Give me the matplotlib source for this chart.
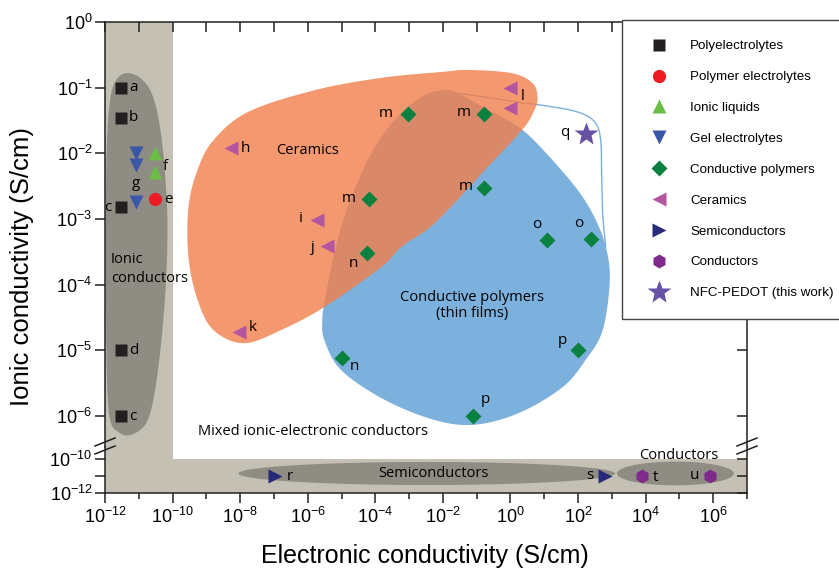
import numpy as np
import matplotlib
matplotlib.use('Agg')
import matplotlib.pyplot as plt
from matplotlib.lines import Line2D
from matplotlib.ticker import FixedLocator, NullLocator, NullFormatter

plt.rcParams['font.family'] = 'Liberation Sans'
plt.rcParams['axes.unicode_minus'] = False

# electronic (x) and ionic (y) conductivity, S/cm
poly_el_x = [3e-12, 3e-12, 3e-12, 3e-12, 3e-12]
poly_el_y = [1e-1, 3.5e-2, 1.5e-3, 1e-5, 1e-6]
poly_el_lab = ['a', 'b', 'c', 'd', 'c']

polymer_x = [3e-11]
polymer_y = [2e-3]
polymer_lab = ['e']

ionic_liq_x = [3e-11, 3e-11]
ionic_liq_y = [1e-2, 5.2e-3]
ionic_liq_lab = ['', 'f']

gel_x = [8e-12, 8e-12, 8e-12]
gel_y = [1e-2, 6.6e-3, 1.8e-3]
gel_lab = ['', 'g', '']

cp_x = [9e-4, 6.3e-5, 5.5e-5, 0.17, 0.17, 12, 240, 1e-5, 100, 0.08]
cp_y = [0.04, 2e-3, 3e-4, 0.04, 3e-3, 4.8e-4, 5e-4, 7.7e-6, 1e-5, 1e-6]
cp_lab = ['m', 'm', 'n', 'm', 'm', 'o', 'o', 'n', 'p', 'p']

cer_x = [5.2e-9, 1.9e-6, 3.8e-6, 9e-9, 1.0, 1.0]
cer_y = [0.012, 9.7e-4, 3.9e-4, 1.9e-5, 0.1, 0.049]
cer_lab = ['h', 'i', 'j', 'k', 'l', '']

semi_x = [1.1e-7, 620]
semi_y = [1e-11, 1e-11]
semi_lab = ['r', 's']

cond_x = [8e3, 8e5]
cond_y = [1e-11, 1e-11]
cond_lab = ['t', 'u']

nfc_x = [170]
nfc_y = [0.02]
nfc_lab = ['q']

# region outlines, in decades (log10 x, log10 y)
ionic_lx = [-11.40, -10.96, -10.60, -10.36, -10.21, -10.15, -10.21, -10.36, -10.57, -10.81,
            -11.26, -11.61, -11.85, -11.94, -11.97, -11.97, -11.94, -11.85, -11.70]
ionic_ly = [-0.78, -0.85, -1.11, -1.64, -2.40, -3.17, -4.08, -4.99, -5.75, -6.13,
            -6.29, -6.24, -6.06, -5.45, -4.23, -2.71, -1.80, -1.19, -0.91]

ceram_lx = [-9.53, -9.53, -9.26, -8.79, -7.77, -5.81, -3.82, -2.03, -1.23, 0.05, 0.65, 0.80,
            0.71, 0.35, -0.75, -2.24, -3.22, -3.82, -5.51, -6.79, -7.89, -8.79, -9.26]
ceram_ly = [-3.58, -2.82, -2.25, -1.80, -1.37, -1.04, -0.85, -0.76, -0.73, -0.78, -0.93, -1.14,
            -1.34, -1.64, -2.25, -3.06, -3.42, -3.73, -4.34, -4.69, -4.89, -4.69, -4.23]

cpol_lx = [-2.03, -1.58, -0.54, 0.35, 1.24, 2.05, 2.52, 2.82, 2.94, 2.73, 2.23, 1.54, 0.26,
           -1.05, -2.24, -3.73, -5.01, -5.51, -5.57, -5.51, -5.30, -5.01, -4.62, -4.11, -3.43, -2.63]
cpol_ly = [-1.04, -1.08, -1.37, -1.64, -2.10, -2.60, -3.01, -3.42, -3.93, -4.69, -5.14, -5.56, -5.95,
           -6.13, -6.06, -5.75, -5.30, -4.84, -4.54, -4.28, -3.73, -3.12, -2.56, -1.99, -1.49, -1.14]

cpol_ext_lx = [-1.73, -0.54, 0.35, 1.10, 1.99, 2.49, 2.67, 2.70, 2.73, 2.82]
cpol_ext_ly = [-1.07, -1.16, -1.23, -1.28, -1.37, -1.52, -1.80, -2.40, -2.94, -3.42]

semi_region = (-2.48, -10.85, 5.57, 0.68)   # centre lx, ly, half widths
cond_region = (4.88, -10.85, 1.73, 0.70)


def smooth(lx, ly, closed=True, n=20):
    p = np.column_stack([lx, ly])
    if closed:
        p = np.vstack([p[-1], p, p[0], p[1]])
    else:
        p = np.vstack([p[0], p, p[-1]])
    t = np.linspace(0, 1, n, endpoint=False)[:, None]
    out = []
    for i in range(1, len(p) - 2):
        p0, p1, p2, p3 = p[i - 1], p[i], p[i + 1], p[i + 2]
        out.append(0.5 * (2 * p1 + (-p0 + p2) * t + (2 * p0 - 5 * p1 + 4 * p2 - p3) * t ** 2
                          + (-p0 + 3 * p1 - 3 * p2 + p3) * t ** 3))
    out = np.vstack(out)
    if not closed:
        out = np.vstack([out, p[-2]])
    return 10 ** out[:, 0], 10 ** out[:, 1]


def ellipse(cx, cy, a, b):
    t = np.linspace(0, 2 * np.pi, 200)
    return 10 ** (cx + a * np.cos(t)), 10 ** (cy + b * np.sin(t))


light = '#c4c1b4'
dark = '#8f8c83'
ink = '#231f20'
txt_font = 'Open Sans'
txt_size = 10.5

fig = plt.figure(figsize=(8.39, 5.71), dpi=100)
W, H = 839, 571
x0, x1 = 105 / W, 747 / W
ax = fig.add_axes([x0, 1 - 447 / H, x1 - x0, (447 - 22) / H])
axl = fig.add_axes([x0, 1 - 493 / H, x1 - x0, (493 - 447) / H], sharex=ax)

for a in (ax, axl):
    a.set_xscale('log')
    a.set_yscale('log')
    a.set_facecolor(light)
    for s in a.spines.values():
        s.set_color(ink)
        s.set_linewidth(1.1)

ax.set_xlim(1e-12, 1e7)
ax.set_ylim(10 ** -6.47, 1)
axl.set_ylim(1e-12, 10 ** -9.29)
ax.spines['bottom'].set_visible(False)
axl.spines['top'].set_visible(False)

ax.axvspan(1e-10, 1e7, color='white', lw=0, zorder=0)
axl.fill_between([1e-10, 1e7], 1e-10, 1e-9, color='white', lw=0, zorder=0)

# ticks
ax.xaxis.set_major_locator(FixedLocator([10.0 ** k for k in range(-12, 7, 2)]))
ax.xaxis.set_minor_locator(FixedLocator([10.0 ** k for k in range(-11, 8, 2)]))
ax.xaxis.set_minor_formatter(NullFormatter())
ax.yaxis.set_major_locator(FixedLocator([10.0 ** -k for k in range(7)]))
ax.yaxis.set_minor_locator(NullLocator())
axl.yaxis.set_major_locator(FixedLocator([1e-12, 1e-10]))
axl.yaxis.set_minor_locator(FixedLocator([1e-11]))
axl.yaxis.set_minor_formatter(NullFormatter())

ax.tick_params(axis='x', which='both', bottom=False, labelbottom=False, top=True,
               direction='in', length=7, width=1.1, color=ink)
ax.tick_params(axis='y', which='both', left=True, right=True, direction='out', length=7,
               width=1.1, labelsize=13, pad=2, color=ink)
for t in ax.yaxis.get_major_ticks():
    t.tick2line.set_marker(matplotlib.lines.TICKLEFT)
axl.tick_params(axis='x', which='major', direction='out', length=7, width=1.1, labelsize=13,
                pad=3, color=ink)
axl.tick_params(axis='x', which='minor', direction='out', length=4, width=1.1, color=ink)
axl.tick_params(axis='y', which='both', left=True, right=True, direction='out', length=7,
                width=1.1, labelsize=13, pad=2, color=ink)
for t in axl.yaxis.get_major_ticks() + axl.yaxis.get_minor_ticks():
    t.tick2line.set_marker(matplotlib.lines.TICKLEFT)

# regions
ax.fill(*smooth(ionic_lx, ionic_ly), color=dark, lw=0, zorder=1)
axl.fill(*ellipse(*semi_region), color=dark, lw=0, zorder=1)
axl.fill(*ellipse(*cond_region), color=dark, lw=0, zorder=1)
ax.fill(*smooth(cpol_lx, cpol_ly), color='#7db1dd', lw=0, zorder=1.5)
ax.plot(*smooth(cpol_ext_lx, cpol_ext_ly, closed=False), color='#7db1dd', lw=1.0, zorder=1.6)
ax.fill(*smooth(ceram_lx, ceram_ly), color='#f17e4b', alpha=0.8, lw=0, zorder=1.7)

# points
series = [
    (ax, poly_el_x, poly_el_y, poly_el_lab, 's', ink, 8, 'Polyelectrolytes'),
    (ax, polymer_x, polymer_y, polymer_lab, 'o', '#ed1c24', 9.5, 'Polymer electrolytes'),
    (ax, ionic_liq_x, ionic_liq_y, ionic_liq_lab, '^', '#6abd45', 10, 'Ionic liquids'),
    (ax, gel_x, gel_y, gel_lab, 'v', '#3a56a6', 10, 'Gel electrolytes'),
    (ax, cp_x, cp_y, cp_lab, 'D', '#0b8140', 8, 'Conductive polymers'),
    (ax, cer_x, cer_y, cer_lab, '<', '#b455a0', 10, 'Ceramics'),
    (axl, semi_x, semi_y, semi_lab, '>', '#262a78', 10, 'Semiconductors'),
    (axl, cond_x, cond_y, cond_lab, 'h', '#7f2b8c', 10, 'Conductors'),
    (ax, nfc_x, nfc_y, nfc_lab, '*', '#6651a5', 18, 'NFC-PEDOT (this work)'),
]

# label offsets in pixels (right, down) from each marker
offsets = {
    'Polyelectrolytes': [(12, 0), (12, 0), (-13, 0), (13, 0), (12, 0)],
    'Polymer electrolytes': [(14, 0)],
    'Ionic liquids': [(0, 0), (10, -6)],
    'Gel electrolytes': [(0, 0), (0, 18), (0, 0)],
    'Conductive polymers': [(-22, 0), (-20, -1), (-13, 10), (-21, -1), (-19, -1),
                            (-10, -16), (-12, -15), (13, 9), (-16, -10), (12, -17)],
    'Ceramics': [(15, 0), (-16, -1), (-15, 2), (14, -5), (12, 9), (0, 0)],
    'Semiconductors': [(15, 0), (-15, -1)],
    'Conductors': [(13, 1), (-15, -1)],
    'NFC-PEDOT (this work)': [(-21, -1)],
}

handles = []
for a, xs, ys, labs, mk, col, ms, name in series:
    a.plot(xs, ys, ls='none', marker=mk, color=col, ms=ms, mec='none', zorder=3)
    handles.append(Line2D([], [], ls='none', marker=mk, color=col, ms=ms, mec='none', label=name))
    for x, y, lab, (dx, dy) in zip(xs, ys, labs, offsets[name]):
        if lab:
            a.annotate(lab, (x, y), xytext=(dx * 0.72, -dy * 0.72), textcoords='offset points',
                       ha='center', va='center', fontsize=11, family=txt_font, zorder=4)

# region names
ax.text(1.5e-12, 10 ** -3.76, 'Ionic\nconductors', ha='left', va='center', fontsize=txt_size,
        family=txt_font, linespacing=1.35, zorder=4)
ax.text(10 ** -6.02, 10 ** -1.96, 'Ceramics', ha='center', va='center', fontsize=txt_size,
        family=txt_font, zorder=4)
ax.text(10 ** -1.14, 10 ** -4.31, 'Conductive polymers\n(thin films)', ha='center', va='center',
        fontsize=txt_size, family=txt_font, linespacing=1.1, zorder=4)
ax.text(10 ** -9.26, 10 ** -6.24, 'Mixed ionic-electronic conductors', ha='left', va='center',
        fontsize=txt_size, family=txt_font, zorder=4)
axl.text(10 ** -2.27, 10 ** -10.85, 'Semiconductors', ha='center', va='center', fontsize=txt_size,
         family=txt_font, zorder=4)
axl.text(10 ** 4.99, 10 ** -9.82, 'Conductors', ha='center', va='center', fontsize=txt_size,
         family=txt_font, zorder=4)

# axis break marks
for xa in (0, 1):
    for dy in (-4, 4):
        axl.plot([xa - 10 / 642, xa + 10 / 642], [1 + (dy - 3) / 46, 1 + (dy + 5) / 46],
                 transform=axl.transAxes, color=ink, lw=1.1, clip_on=False, zorder=5)

fig.text(22 / W, 1 - 266 / H, 'Ionic conductivity (S/cm)', rotation=90, ha='center',
         va='center', fontsize=18.5)
fig.text(425 / W, 1 - 556 / H, 'Electronic conductivity (S/cm)', ha='center', va='center',
         fontsize=18)

leg = fig.legend(handles=handles, loc='upper left', bbox_to_anchor=(622 / W, 1 - 20 / H),
                 bbox_transform=fig.transFigure, fontsize=9.6, labelspacing=1.39, borderpad=1.5,
                 handlelength=2.6, handletextpad=1.0, numpoints=1, fancybox=False,
                 framealpha=1, edgecolor='#444444', borderaxespad=0)
leg.get_frame().set_linewidth(1.0)

fig.savefig('out.png', dpi=100)
